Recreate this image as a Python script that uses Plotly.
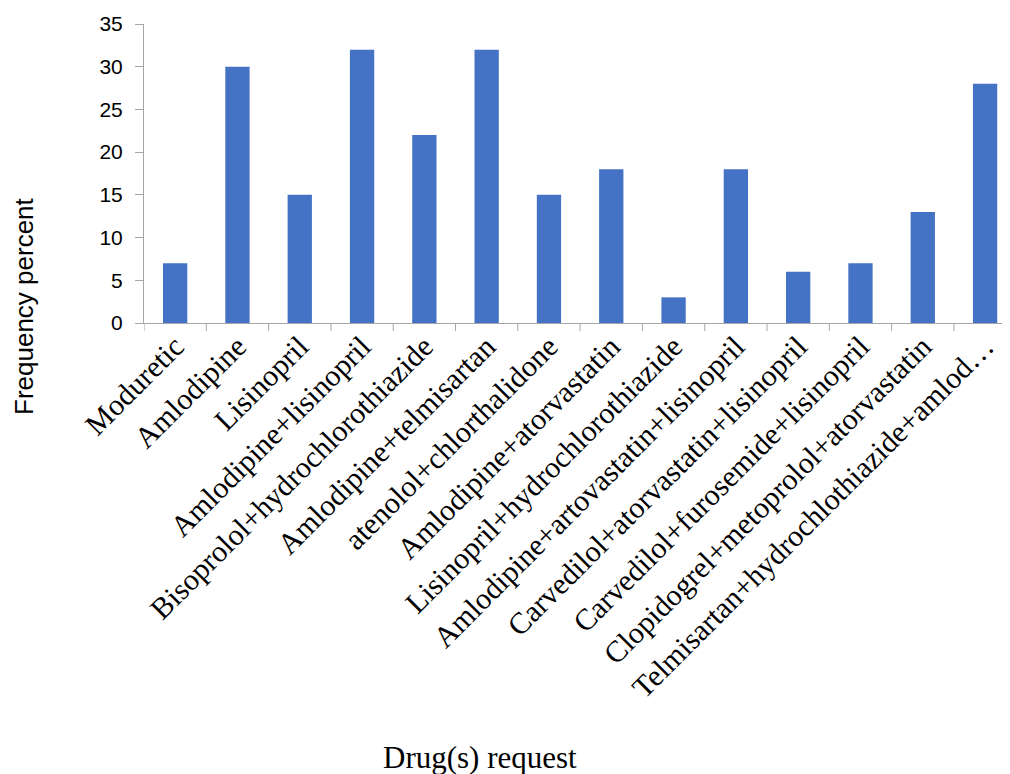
import plotly.graph_objects as go

categories = [
    "Moduretic",
    "Amlodipine",
    "Lisinopril",
    "Amlodipine+lisinopril",
    "Bisoprolol+hydrochlorothiazide",
    "Amlodipine+telmisartan",
    "atenolol+chlorthalidone",
    "Amlodipine+atorvastatin",
    "Lisinopril+hydrochlorothiazide",
    "Amlodipine+artovastatin+lisinopril",
    "Carvedilol+atorvastatin+lisinopril",
    "Carvedilol+furosemide+lisinopril",
    "Clopidogrel+metoprolol+atorvastatin",
    "Telmisartan+hydrochlothiazide+amlod…",
]
values = [7, 30, 15, 32, 22, 32, 15, 18, 3, 18, 6, 7, 13, 28]
y_ticks = [0, 5, 10, 15, 20, 25, 30, 35]

# the page body adds an 8px offset; build the figure in shifted coordinates
OFF = 8
W, H = 1010 - OFF, 774 - OFF
L, T = 144 - OFF, 24 - OFF
B = H - (323 - OFF)
pw, ph = W - L, H - T - B

fig = go.Figure(
    go.Bar(
        x=list(range(len(categories))),
        y=values,
        marker=dict(color="#4472C4", line=dict(width=0)),
        width=0.39,
    )
)

fig.update_layout(
    width=W,
    height=H,
    margin=dict(l=L, r=0, t=T, b=B, autoexpand=False),
    paper_bgcolor="white",
    plot_bgcolor="white",
    showlegend=False,
    xaxis=dict(
        tickmode="array",
        tickvals=list(range(len(categories))),
        ticktext=categories,
        range=[-0.5, 13.4],
        tickangle=-45,
        tickfont=dict(family="Liberation Serif", size=30, color="black"),
        ticklabelstandoff=-7,
        showline=True,
        linecolor="#a6a6a6",
        linewidth=1,
        ticks="",
        showgrid=False,
        zeroline=False,
        automargin=False,
    ),
    yaxis=dict(
        range=[0, 35],
        tickvals=y_ticks,
        tickfont=dict(family="Liberation Sans", size=21, color="black"),
        ticklabelstandoff=8,
        showline=True,
        linecolor="#a6a6a6",
        linewidth=1,
        ticks="outside",
        ticklen=8,
        tickcolor="#a6a6a6",
        showgrid=False,
        zeroline=False,
        automargin=False,
    ),
)

# category boundary ticks
for i in range(len(categories) + 1):
    fig.add_shape(type="line", xref="x", yref="paper",
                  x0=i - 0.5, x1=i - 0.5, y0=0, y1=-8 / ph,
                  line=dict(color="#a6a6a6", width=1))

fig.add_annotation(text="Frequency percent", xref="paper", yref="paper",
                   x=(24 - OFF - L) / pw, y=((323 - OFF) - (306 - OFF)) / ph,
                   showarrow=False, textangle=-90,
                   xanchor="center", yanchor="middle",
                   font=dict(family="Liberation Sans", size=26, color="black"))
fig.add_annotation(text="Drug(s) request", xref="paper", yref="paper",
                   x=(480 - OFF - L) / pw, y=((323 - OFF) - (757 - OFF)) / ph,
                   showarrow=False, xanchor="center", yanchor="middle",
                   font=dict(family="Liberation Serif", size=31, color="black"))

fig.write_html("out.html")
